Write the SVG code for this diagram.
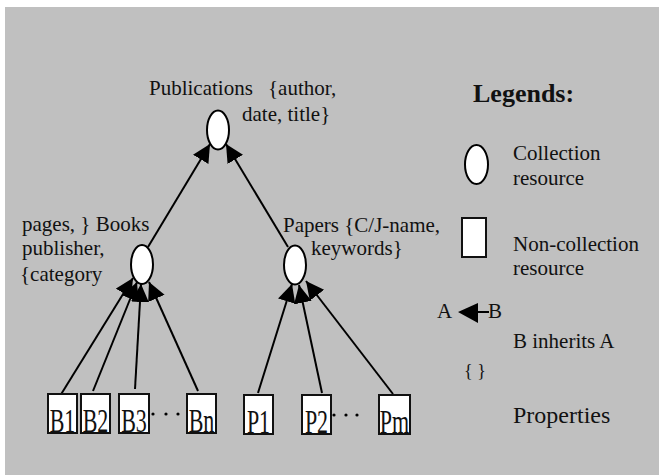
<svg xmlns="http://www.w3.org/2000/svg" width="659" height="475" viewBox="0 0 659 475">
<style>
.t{font-family:'Liberation Serif','DejaVu Serif','Times New Roman',serif;fill:#111;font-size:21px}
.col{fill:#fff;stroke:#000;stroke-width:2}
.nc{fill:#fff;stroke:#111;stroke-width:2}
.edge{stroke:#000;stroke-width:2;fill:none;marker-end:url(#ah)}
.lbl{text-anchor:middle;font-size:22px}
</style>
<defs>
<marker id="ah" markerUnits="userSpaceOnUse" markerWidth="20" markerHeight="20" refX="18" refY="9" orient="auto">
<path d="M0,0 L18,9 L0,18 z" fill="#000"/>
</marker>
</defs>
<rect x="5" y="7" width="654" height="468" fill="#c0c0c0"/>

<g id="connectors">
<line class="edge" x1="148" y1="247" x2="210" y2="144"/>
<line class="edge" x1="288" y1="247" x2="226" y2="144"/>
<line class="edge" x1="60" y1="396" x2="133" y2="278"/>
<line class="edge" x1="93" y1="391" x2="137" y2="282"/>
<line class="edge" x1="135" y1="389" x2="141" y2="284"/>
<line class="edge" x1="198" y1="391" x2="149" y2="282"/>
<line class="edge" x1="258" y1="393" x2="292" y2="284"/>
<line class="edge" x1="322" y1="393" x2="299" y2="285"/>
<line class="edge" x1="393" y1="394" x2="306" y2="281"/>
</g>

<g class="t" font-family="'Liberation Serif', 'DejaVu Serif', serif">
<g id="publications">
<ellipse class="col" cx="218" cy="130" rx="11" ry="19.5"/>
<text x="149" y="95">Publications</text>
<text x="268" y="95">{author,</text>
<text x="242" y="121">date, title}</text>
</g>

<g id="books">
<ellipse class="col" cx="142" cy="264.5" rx="11" ry="19.5"/>
<text x="22" y="231">pages, } Books</text>
<text x="22" y="255">publisher,</text>
<text x="20" y="281">{category</text>
</g>

<g id="papers">
<ellipse class="col" cx="295" cy="265" rx="11" ry="19.5"/>
<text x="283" y="232">Papers {C/J-name,</text>
<text x="311" y="255">keywords}</text>
</g>

<g id="B1"><rect class="nc" x="48" y="394" width="29" height="39"/><text class="lbl" transform="translate(62.5,431.5) scale(1,1.5)">B1</text></g>
<g id="B2"><rect class="nc" x="81" y="394" width="29" height="39"/><text class="lbl" transform="translate(95.5,431.5) scale(1,1.5)">B2</text></g>
<g id="B3"><rect class="nc" x="119" y="394" width="30" height="39"/><text class="lbl" transform="translate(134,431.5) scale(1,1.5)">B3</text></g>
<g id="Bn"><rect class="nc" x="187" y="394" width="29" height="39"/><text class="lbl" transform="translate(201.5,431.5) scale(1,1.5)">Bn</text></g>
<g id="bdots" fill="#000"><circle cx="153" cy="414" r="1.6"/><circle cx="166" cy="414" r="1.6"/><circle cx="178" cy="414" r="1.6"/></g>

<g id="P1"><rect class="nc" x="244" y="395" width="29" height="39"/><text class="lbl" transform="translate(258.5,432.5) scale(1,1.5)">P1</text></g>
<g id="P2"><rect class="nc" x="302" y="395" width="29" height="39"/><text class="lbl" transform="translate(316.5,432.5) scale(1,1.5)">P2</text></g>
<g id="Pm"><rect class="nc" x="379" y="395" width="31" height="39"/><text class="lbl" transform="translate(394.5,432.5) scale(1,1.5)">Pm</text></g>
<g id="pdots" fill="#000"><circle cx="334" cy="415" r="1.6"/><circle cx="346" cy="415" r="1.6"/><circle cx="357" cy="415" r="1.6"/></g>

<g id="legend">
<text x="473" y="102" style="font-weight:bold;font-size:26px">Legends:</text>
<ellipse class="col" cx="476.5" cy="164.5" rx="11.5" ry="19.5"/>
<text x="513" y="160">Collection</text>
<text x="513" y="185">resource</text>
<rect class="nc" x="462" y="218" width="24" height="39"/>
<text x="513" y="251">Non-collection</text>
<text x="513" y="275">resource</text>
<text x="437" y="318">A</text>
<line x1="476" y1="312" x2="489" y2="312" stroke="#000" stroke-width="2"/>
<path d="M458,312 L478,303 L478,323 z" fill="#000"/>
<text x="488" y="318">B</text>
<text x="513" y="348">B inherits A</text>
<text x="464" y="377" style="font-size:18px">{  }</text>
<text x="513" y="423" style="font-size:24px">Properties</text>
</g>
</g>
</svg>
